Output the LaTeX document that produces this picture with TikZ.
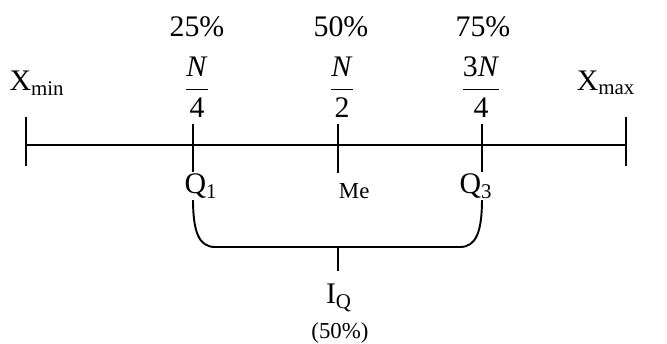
\documentclass[tikz,border=0pt]{standalone}
\usepackage{fontspec}
\setmainfont{Liberation Serif}

\begin{document}
\begin{tikzpicture}[x=0.02cm, y=-0.02cm, line width=1.1pt,
  big/.style={font=\fontsize{17}{20}\selectfont, inner sep=0pt},
  small/.style={font=\fontsize{13}{15}\selectfont, inner sep=0pt}]

\useasboundingbox (0,0) rectangle (667,343);

% main axis with end ticks
\coordinate (lo) at (26,145);
\coordinate (hi) at (626,145);
\draw (lo) -- (hi);
\draw ([yshift=-21*0.02cm]lo) -- ([yshift=28*0.02cm]lo);
\draw ([yshift=-21*0.02cm]hi) -- ([yshift=28*0.02cm]hi);

% quartile ticks
\coordinate (t1) at (193,124);
\coordinate (tm) at (338,124);
\coordinate (t3) at (482,124);
\coordinate (b1) at (193,199);
\coordinate (bm) at (338,173);
\coordinate (b3) at (482,199);
\draw (t1) -- (b1);
\draw (tm) -- (bm);
\draw (t3) -- (b3);

% brace under Q1..Q3
\coordinate (brl) at (215,247);
\coordinate (brr) at (460,247);
\coordinate (brm) at (338,247);
\coordinate (brt) at (338,271);
\draw (b1) .. controls (193,232) and (199,247) .. (brl) -- (brr)
  .. controls (476,247) and (482,232) .. (b3);
\draw (brm) -- (brt);

% labels
\node[big] (xmin) at (37,83) {X\textsubscript{min}};
\node[big] (xmax) at (606,83) {X\textsubscript{max}};

\node[big] (p25) at (197,27) {25\%};
\node[big] (p50) at (341,27) {50\%};
\node[big] (p75) at (483,27) {75\%};

\node[big] (f1) at (197,87) {$\displaystyle\frac{\mbox{\textit{N}}}{\mbox{4}}$};
\node[big] (f2) at (342,87) {$\displaystyle\frac{\mbox{\textit{N}}}{\mbox{2}}$};
\node[big] (f3) at (481,87) {$\displaystyle\frac{\mbox{3\textit{N}}}{\mbox{4}}$};

\node[big, fill=white, inner sep=1pt] (q1) at (201,186) {Q\textsubscript{1}};
\node[small, anchor=west] (me) at (338,191) {Me};
\node[big, fill=white, inner sep=1pt] (q3) at (476,186) {Q\textsubscript{3}};

\node[big] (iq) at (339,298) {I\textsubscript{Q}};
\node[small] (pct) at (340,333) {(50\%)};

\end{tikzpicture}
\end{document}
